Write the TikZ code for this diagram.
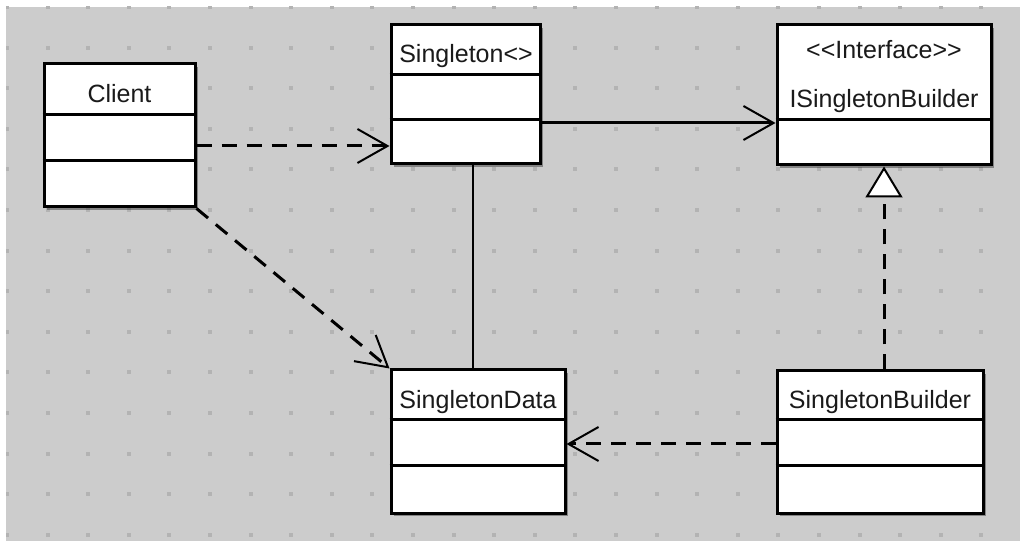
\documentclass[tikz,border=0pt]{standalone}
\usepackage{fontspec}
\setmainfont[Ligatures=TeXOff]{Liberation Sans}
\usetikzlibrary{arrows.meta,shadows,calc}

\definecolor{canvas}{HTML}{CCCCCC}
\definecolor{griddot}{HTML}{B3B3B3}
\definecolor{ink}{HTML}{1A1A1A}

\tikzset{
  classbox/.style={draw=black, line width=3pt, fill=white, rectangle, inner sep=0pt,
    drop shadow={shadow xshift=3pt, shadow yshift=-3pt, opacity=0.35, fill=black}},
  divider/.style={line width=3pt, black},
  title/.style={anchor=base, inner sep=0pt, text=ink, font=\fontsize{25}{30}\selectfont},
  depend/.style={line width=3pt, dash pattern=on 15pt off 10pt,
    -{Straight Barb[length=30pt, width=34pt, line width=2pt]}},
  assoc/.style={line width=3pt, -{Straight Barb[length=30pt, width=34pt, line width=2pt]}},
  realize/.style={line width=3pt, dash pattern=on 15pt off 10pt,
    -{Triangle[open, fill=white, length=31pt, width=37pt, line width=2pt]}},
  link/.style={line width=1.5pt},
}

\begin{document}
\begin{tikzpicture}[x=1pt, y=1pt]
  \useasboundingbox (0,0) rectangle (1020,541);
  \fill[white] (0,0) rectangle (1020,541);

  % canvas with its dot grid
  \fill[canvas] (6,0) rectangle (1020,534);
  \begin{scope}
    \clip (6,0) rectangle (1020,534);
    \foreach \i in {0,...,24} {
      \foreach \j in {0,...,13} {
        \fill[griddot] ({7+40.6*\i-2},{534-40.6*\j-2}) rectangle ++(4,4);
      }
    }
  \end{scope}

  % classes
  \node[classbox, minimum width=151pt, minimum height=143pt] (client) at (119.5,405.5) {};
  \node[classbox, minimum width=149pt, minimum height=139pt] (singleton) at (465.5,446.5) {};
  \node[classbox, minimum width=214pt, minimum height=140pt] (isb) at (884,446) {};
  \node[classbox, minimum width=174pt, minimum height=143pt] (data) at (478,99.5) {};
  \node[classbox, minimum width=206pt, minimum height=142pt] (builder) at (880,99) {};

  % compartment lines
  \foreach \y in {426,380} \draw[divider] (client.west |- 0,\y) -- (client.east |- 0,\y);
  \foreach \y in {466,421} \draw[divider] (singleton.west |- 0,\y) -- (singleton.east |- 0,\y);
  \draw[divider] (isb.west |- 0,421) -- (isb.east |- 0,421);
  \foreach \y in {121,75} \draw[divider] (data.west |- 0,\y) -- (data.east |- 0,\y);
  \foreach \y in {121,75} \draw[divider] (builder.west |- 0,\y) -- (builder.east |- 0,\y);

  % class names
  \node[title] (client-name) at (119.5,438) {Client};
  \node[title] (singleton-name) at (466,478) {Singleton<>};
  \node[title] (isb-stereo) at (884,482) {<<Interface>>};
  \node[title] (isb-name) at (884,433) {ISingletonBuilder};
  \node[title] (data-name) at (478,132) {SingletonData};
  \node[title] (builder-name) at (880,132) {SingletonBuilder};

  % relations
  \draw[depend] ([yshift=-10.5pt]client.east) -- ([yshift=-10.5pt]client.east -| singleton.west);
  \draw[depend] (client.south east) -- (data.north west);
  \draw[assoc] ([yshift=-28.5pt]singleton.east) -- ([yshift=-28.5pt]singleton.east -| isb.west);
  \draw[link] ([xshift=7.5pt]singleton.south) -- ([xshift=7.5pt]singleton.south |- data.north);
  \draw[realize] ([xshift=4pt]builder.north) -- ([xshift=4pt]builder.north |- isb.south);
  \draw[depend] ([yshift=-2pt]builder.west) -- ([yshift=-2pt]builder.west -| data.east);
\end{tikzpicture}
\end{document}
